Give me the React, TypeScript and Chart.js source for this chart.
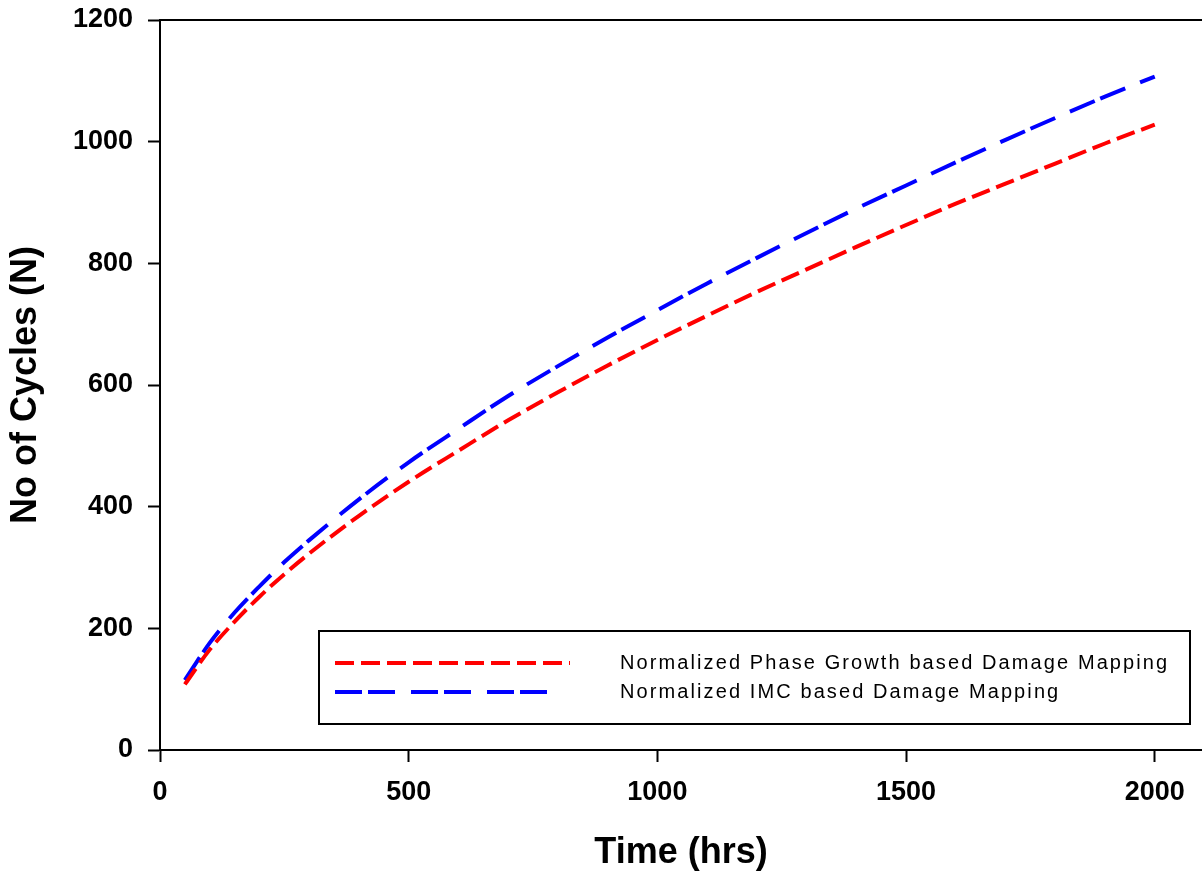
import React, { useEffect, useRef } from 'react';
import { Chart, registerables } from 'chart.js';

Chart.register(...registerables);

const timeHrs = [50, 100, 150, 200, 250, 300, 400, 500, 600, 700, 800, 900, 1000, 1100, 1200, 1300, 1400, 1500, 1600, 1700, 1800, 1900, 2000];
const phaseGrowthCycles = [108, 165, 211, 252, 289, 323, 385, 441, 492, 542, 588, 632, 674, 714, 753, 790, 827, 863, 898, 931, 964, 997, 1028];
const imcCycles = [115, 176, 226, 269, 309, 345, 412, 473, 528, 582, 631, 678, 723, 767, 809, 850, 890, 928, 966, 1003, 1039, 1074, 1107];
const seriesLabels = ['Normalized Phase Growth based Damage Mapping', 'Normalized IMC based Damage Mapping'];
const xTickValues = [0, 500, 1000, 1500, 2000];
const yTickValues = [0, 200, 400, 600, 800, 1000, 1200];
const xTitle = 'Time (hrs)';
const yTitle = 'No of Cycles (N)';

const FONT = '"Liberation Sans", Arial, sans-serif';

const framePlugin = {
  id: 'frameTop',
  afterDraw(chart: any) {
    const { ctx, chartArea } = chart;
    ctx.save();
    ctx.strokeStyle = '#000';
    ctx.lineWidth = 2;
    ctx.beginPath();
    ctx.moveTo(chartArea.left, chartArea.top);
    ctx.lineTo(chartArea.right, chartArea.top);
    ctx.stroke();
    ctx.restore();
  },
};

const boxLegendPlugin = {
  id: 'boxLegend',
  afterDatasetsDraw(chart: any) {
    const { ctx } = chart;
    const box = { x: 319, y: 631, w: 871, h: 93 };
    ctx.save();
    ctx.fillStyle = '#fff';
    ctx.fillRect(box.x, box.y, box.w, box.h);
    ctx.strokeStyle = '#000';
    ctx.lineWidth = 2;
    ctx.strokeRect(box.x, box.y, box.w, box.h);
    const rows = [663, 692];
    const lineEnds = [570, 548];
    chart.data.datasets.forEach((ds: any, i: number) => {
      const y = rows[i];
      ctx.strokeStyle = ds.borderColor;
      ctx.lineWidth = ds.borderWidth;
      ctx.setLineDash(ds.borderDash);
      ctx.beginPath();
      ctx.moveTo(335, y);
      ctx.lineTo(lineEnds[i], y);
      ctx.stroke();
      ctx.setLineDash([]);
      ctx.fillStyle = '#000';
      ctx.font = '20px ' + FONT;
      (ctx as any).letterSpacing = '2.1px';
      ctx.textBaseline = 'middle';
      ctx.textAlign = 'left';
      ctx.fillText(ds.label, 620, y);
    });
    ctx.restore();
  },
};

export default function App() {
  const ref = useRef<HTMLCanvasElement | null>(null);

  useEffect(() => {
    if (!ref.current) return;
    const chart = new Chart(ref.current, {
      type: 'line',
      data: {
        datasets: [
          {
            label: seriesLabels[0],
            data: timeHrs.map((t, i) => ({ x: t, y: phaseGrowthCycles[i] })),
            borderColor: '#ff0000',
            borderWidth: 4,
            borderDash: [19, 7],
            pointRadius: 0,
            fill: false,
            cubicInterpolationMode: 'monotone',
          },
          {
            label: seriesLabels[1],
            data: timeHrs.map((t, i) => ({ x: t, y: imcCycles[i] })),
            borderColor: '#0000ff',
            borderWidth: 4,
            borderDash: [27, 6, 27, 16],
            pointRadius: 0,
            fill: false,
            cubicInterpolationMode: 'monotone',
          },
        ],
      },
      options: {
        animation: false,
        responsive: false,
        maintainAspectRatio: false,
        layout: { padding: { top: 20, right: 0, left: 0, bottom: 0 } },
        plugins: {
          legend: { display: false },
          tooltip: { enabled: false },
        },
        scales: {
          x: {
            type: 'linear',
            min: 0,
            max: 2095,
            afterBuildTicks: (axis: any) => {
              axis.ticks = xTickValues.map((v) => ({ value: v }));
            },
            afterFit: (scale: any) => {
              scale.height = 125;
              scale.paddingLeft = 0;
              scale.paddingRight = 0;
            },
            grid: {
              display: true,
              drawOnChartArea: false,
              drawTicks: true,
              tickLength: 12,
              tickWidth: 2,
              color: '#000',
            },
            border: { display: true, color: '#000', width: 2 },
            ticks: {
              color: '#000',
              padding: 14,
              maxRotation: 0,
              callback: (v: any) => String(v),
              font: { family: FONT, size: 27, weight: 'bold' },
            },
            title: {
              display: true,
              text: xTitle,
              color: '#000',
              font: { family: FONT, size: 36, weight: 'bold', lineHeight: 1 },
              padding: { top: 4, bottom: 4 },
            },
          },
          y: {
            type: 'linear',
            min: 0,
            max: 1200,
            afterBuildTicks: (axis: any) => {
              axis.ticks = yTickValues.map((v) => ({ value: v }));
            },
            afterFit: (scale: any) => {
              scale.width = 160;
              scale.paddingTop = 0;
              scale.paddingBottom = 0;
            },
            grid: {
              display: true,
              drawOnChartArea: false,
              drawTicks: true,
              tickLength: 12,
              tickWidth: 2,
              color: '#000',
            },
            border: { display: true, color: '#000', width: 2 },
            ticks: {
              color: '#000',
              padding: 15,
              callback: (v: any) => String(v),
              font: { family: FONT, size: 27, weight: 'bold' },
            },
            title: {
              display: true,
              text: yTitle,
              color: '#000',
              font: { family: FONT, size: 36, weight: 'bold', lineHeight: 1 },
              padding: { top: 8, bottom: 8 },
            },
          },
        },
      } as any,
      plugins: [framePlugin, boxLegendPlugin],
    });
    return () => chart.destroy();
  }, []);

  return (
    <div style={{ position: 'absolute', left: 0, top: 0, width: 1202, height: 875, background: '#fff' }}>
      <canvas ref={ref} width={1202} height={875} style={{ width: 1202, height: 875 }} />
    </div>
  );
}
